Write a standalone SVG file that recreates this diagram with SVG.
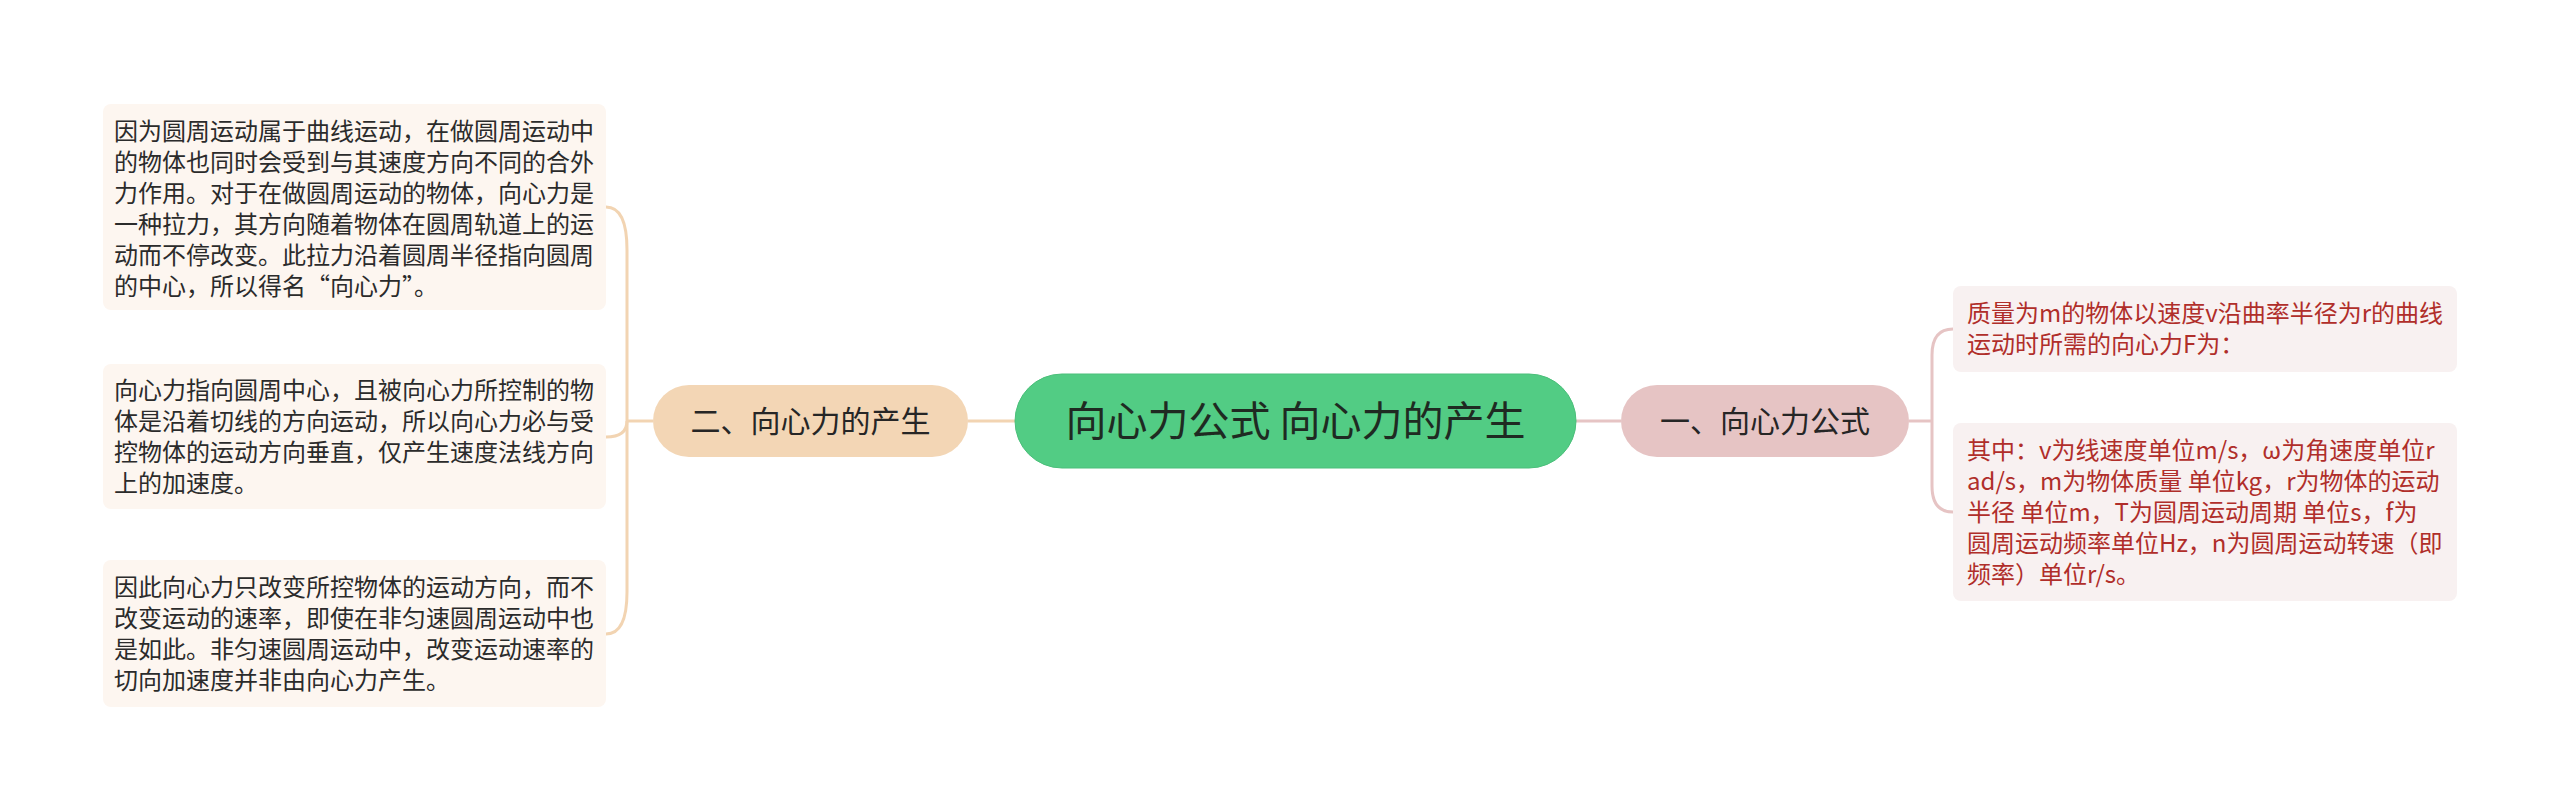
<svg xmlns="http://www.w3.org/2000/svg" width="2560" height="812" viewBox="0 0 2560 812">
<style>
.t{font-family:"Noto Sans CJK SC","Noto Sans",sans-serif;}
.body{font-size:24px;fill:#2b2b2b;}
.red{font-size:24px;fill:#b02e2a;}
.lbox{fill:#fdf6f0;}
.rbox{fill:#f8f1f1;}
.lc{fill:none;stroke:#f2d4b2;stroke-width:3;}
.rc{fill:none;stroke:#e6c4c4;stroke-width:3;}
</style>
<rect width="2560" height="812" fill="#ffffff"/>
<g id="connectors">
<path class="lc" d="M968 421 L1015 421"/>
<path class="rc" d="M1576 421 L1621 421"/>
<path class="lc" d="M653 421 L627 421"/>
<path class="lc" d="M627 421 L627 250 Q627 207 606 207"/>
<path class="lc" d="M627 421 Q627 437 606 437"/>
<path class="lc" d="M627 421 L627 592 Q627 634 606 634"/>
<path class="rc" d="M1909 421 L1932 421"/>
<path class="rc" d="M1932 421 L1932 355 Q1932 329 1953 329"/>
<path class="rc" d="M1932 421 L1932 486 Q1932 512 1953 512"/>
</g>
<g id="root">
<rect x="1015" y="374" width="561" height="94" rx="47" fill="#52cc84" stroke="#4bbf7a" stroke-width="1"/>
<text class="t" x="1295.5" y="436" font-size="41" fill="#1f2a22" text-anchor="middle">向心力公式 向心力的产生</text>
</g>
<g id="node-left">
<rect x="653" y="385" width="315" height="72" rx="36" fill="#f3d6b5"/>
<text class="t" x="810.5" y="432" font-size="30" fill="#262626" text-anchor="middle">二、向心力的产生</text>
</g>
<g id="node-right">
<rect x="1621" y="385" width="288" height="72" rx="36" fill="#e6c4c4"/>
<text class="t" x="1765" y="432" font-size="30" fill="#262626" text-anchor="middle">一、向心力公式</text>
</g>
<g id="left-1">
<rect class="lbox" x="103" y="104" width="503" height="206" rx="8"/>
<text class="t body">
<tspan x="114" y="140">因为圆周运动属于曲线运动，在做圆周运动中</tspan>
<tspan x="114" y="171">的物体也同时会受到与其速度方向不同的合外</tspan>
<tspan x="114" y="202">力作用。对于在做圆周运动的物体，向心力是</tspan>
<tspan x="114" y="233">一种拉力，其方向随着物体在圆周轨道上的运</tspan>
<tspan x="114" y="264">动而不停改变。此拉力沿着圆周半径指向圆周</tspan>
<tspan x="114" y="295">的中心，所以得名“向心力”。</tspan>
</text>
</g>
<g id="left-2">
<rect class="lbox" x="103" y="364" width="503" height="145" rx="8"/>
<text class="t body">
<tspan x="114" y="399">向心力指向圆周中心，且被向心力所控制的物</tspan>
<tspan x="114" y="430">体是沿着切线的方向运动，所以向心力必与受</tspan>
<tspan x="114" y="461">控物体的运动方向垂直，仅产生速度法线方向</tspan>
<tspan x="114" y="492">上的加速度。</tspan>
</text>
</g>
<g id="left-3">
<rect class="lbox" x="103" y="560" width="503" height="147" rx="8"/>
<text class="t body">
<tspan x="114" y="596">因此向心力只改变所控物体的运动方向，而不</tspan>
<tspan x="114" y="627">改变运动的速率，即使在非匀速圆周运动中也</tspan>
<tspan x="114" y="658">是如此。非匀速圆周运动中，改变运动速率的</tspan>
<tspan x="114" y="689">切向加速度并非由向心力产生。</tspan>
</text>
</g>
<g id="right-1">
<rect class="rbox" x="1953" y="286" width="504" height="86" rx="8"/>
<text class="t red">
<tspan x="1967" y="322">质量为m的物体以速度v沿曲率半径为r的曲线</tspan>
<tspan x="1967" y="353">运动时所需的向心力F为：</tspan>
</text>
</g>
<g id="right-2">
<rect class="rbox" x="1953" y="423" width="504" height="178" rx="8"/>
<text class="t red">
<tspan x="1967" y="459">其中：v为线速度单位m/s，ω为角速度单位r</tspan>
<tspan x="1967" y="490">ad/s，m为物体质量 单位kg，r为物体的运动</tspan>
<tspan x="1967" y="521">半径 单位m，T为圆周运动周期 单位s，f为</tspan>
<tspan x="1967" y="552">圆周运动频率单位Hz，n为圆周运动转速（即</tspan>
<tspan x="1967" y="583">频率）单位r/s。</tspan>
</text>
</g>
</svg>
